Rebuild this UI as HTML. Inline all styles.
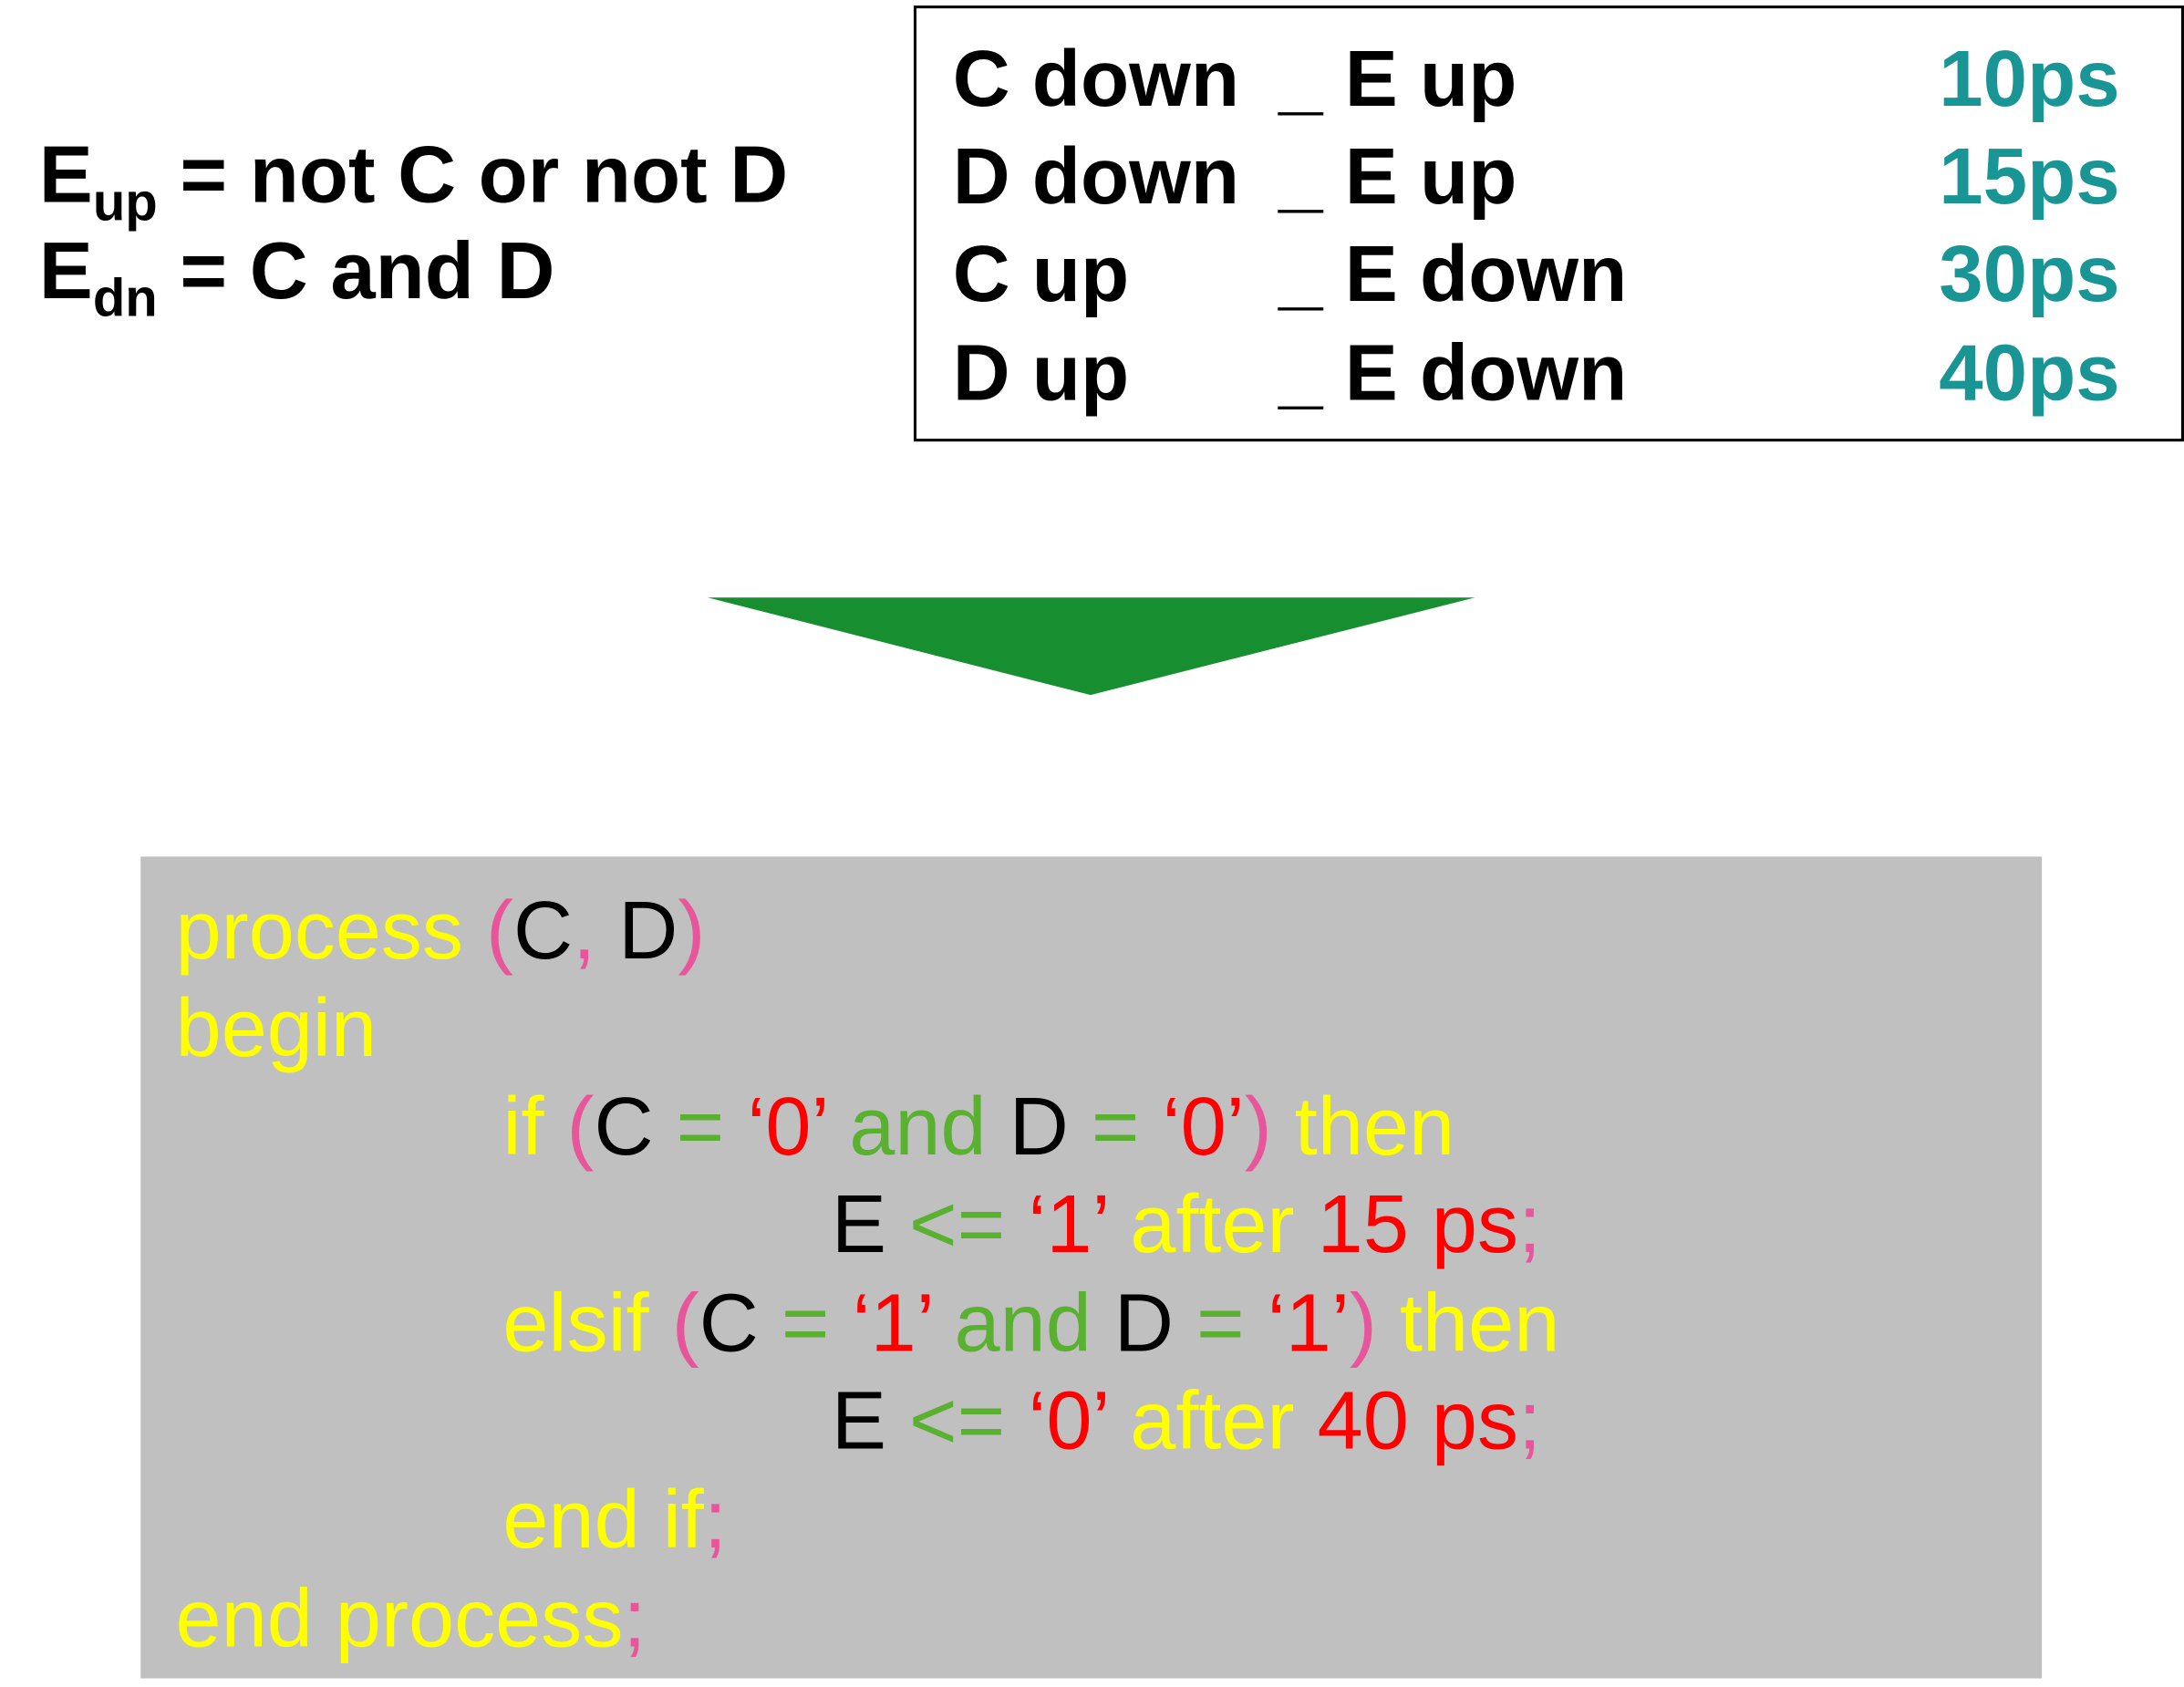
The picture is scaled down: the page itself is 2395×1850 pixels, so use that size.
<!DOCTYPE html>
<html><head><meta charset="utf-8"><style>
html,body{margin:0;padding:0;background:#fff;width:2395px;height:1850px;overflow:hidden}
#w{position:absolute;left:0;top:0;width:1568px;height:1211px;transform:scale(1.5274);transform-origin:0 0}
.t{position:absolute;white-space:pre;font-family:"Liberation Sans",Arial,sans-serif;line-height:1}
.b{font-weight:bold;font-size:58px;color:#000}
.tb{font-weight:bold;font-size:57px;color:#000}
.c{font-size:59px;color:#ffff00}
.p{color:#e8559a}.k{color:#000}.g{color:#5ab030}.r{color:#ff0000}
sub{font-size:38px;vertical-align:-13px}
.v{color:#1a9595;right:44px}
</style></head><body>
<div id="w">
<div class="t b" style="left:28px;top:97px">E<sub>up</sub> = not C or not D</div>
<div class="t b" style="left:28px;top:166px">E<sub>dn</sub> = C and D</div>
<div style="position:absolute;left:656px;top:4px;width:908px;height:309px;border:2px solid #000">
<div class="t tb" style="left:26px;top:23px">C down</div>
<div class="t tb" style="left:260px;top:23px">_ E up</div>
<div class="t tb v" style="top:23px">10ps</div>
<div class="t tb" style="left:26px;top:93px">D down</div>
<div class="t tb" style="left:260px;top:93px">_ E up</div>
<div class="t tb v" style="top:93px">15ps</div>
<div class="t tb" style="left:26px;top:163px">C up</div>
<div class="t tb" style="left:260px;top:163px">_ E down</div>
<div class="t tb v" style="top:163px">30ps</div>
<div class="t tb" style="left:26px;top:234px">D up</div>
<div class="t tb" style="left:260px;top:234px">_ E down</div>
<div class="t tb v" style="top:234px">40ps</div>
</div>
<svg style="position:absolute;left:0;top:0" width="1568" height="1211">
<polygon points="508,429 1059,429 783,499" fill="#178f30"/>
</svg>
<div style="position:absolute;left:101px;top:615px;width:1365px;height:590px;background:#c0c0c0">
<div class="t c" style="left:25px;top:24px">process <span class="p">(</span><span class="k">C</span><span class="p">,</span> <span class="k">D</span><span class="p">)</span></div>
<div class="t c" style="left:25px;top:94px">begin</div>
<div class="t c" style="left:260px;top:165px">if <span class="p">(</span><span class="k">C</span> <span class="g">=</span> <span class="r">‘0’</span> <span class="g">and</span> <span class="k">D</span> <span class="g">=</span> <span class="r">‘0’</span><span class="p">)</span> then</div>
<div class="t c" style="left:496px;top:235px"><span class="k">E</span> <span class="g">&lt;=</span> <span class="r">‘1’</span> after <span class="r">15 ps</span><span class="p">;</span></div>
<div class="t c" style="left:260px;top:306px">elsif <span class="p">(</span><span class="k">C</span> <span class="g">=</span> <span class="r">‘1’</span> <span class="g">and</span> <span class="k">D</span> <span class="g">=</span> <span class="r">‘1’</span><span class="p">)</span> then</div>
<div class="t c" style="left:496px;top:376px"><span class="k">E</span> <span class="g">&lt;=</span> <span class="r">‘0’</span> after <span class="r">40 ps</span><span class="p">;</span></div>
<div class="t c" style="left:260px;top:447px">end if<span class="p">;</span></div>
<div class="t c" style="left:25px;top:518px">end process<span class="p">;</span></div>
</div>
</div>
</body></html>
